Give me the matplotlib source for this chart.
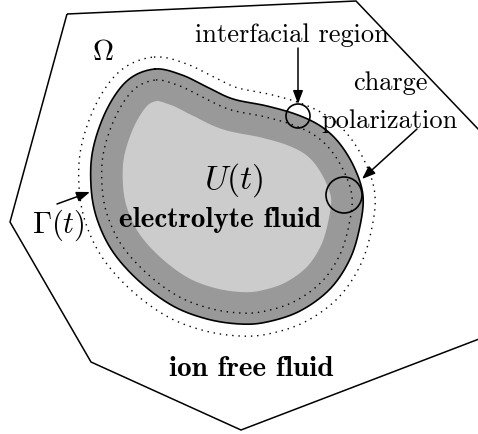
import numpy as np
import matplotlib
matplotlib.use("Agg")
import matplotlib.pyplot as plt
from matplotlib.patches import Polygon, Circle

plt.rcParams["mathtext.fontset"] = "cm"

# Outer domain Omega (image pixel coords, y down)
domain_x = [67, 356, 500, 500, 241, 91, 10]
domain_y = [15, 2, 153, 332, 431, 363, 223]

# Control points of the droplet boundary Gamma(t)
blob_x = [155, 182, 207, 233, 267, 298, 322, 340, 355, 363, 360, 350, 330,
          300, 267, 240, 207, 173, 140, 113, 97, 91, 93, 107, 128]
blob_y = [70, 76, 88, 100, 107, 116, 128, 145, 170, 197, 227, 260, 290,
          312, 323, 325, 320, 307, 283, 253, 220, 187, 150, 110, 81]

# offsets of the layers from the boundary (pixels, + = outward)
core_offset = -32
dot_in_offset = -11
dot_out_offset = 12


def closed_spline(px, py, n=30):
    p = np.column_stack([px, py]).astype(float)
    m = len(p)
    out = []
    for i in range(m):
        p0, p1, p2, p3 = p[i - 1], p[i], p[(i + 1) % m], p[(i + 2) % m]
        t = np.linspace(0, 1, n, endpoint=False)[:, None]
        out.append(0.5 * ((2 * p1) + (-p0 + p2) * t
                          + (2 * p0 - 5 * p1 + 4 * p2 - p3) * t ** 2
                          + (-p0 + 3 * p1 - 3 * p2 + p3) * t ** 3))
    return np.vstack(out)


def offset(curve, d):
    tang = np.roll(curve, -1, axis=0) - np.roll(curve, 1, axis=0)
    tang /= np.linalg.norm(tang, axis=1)[:, None]
    norm = np.column_stack([tang[:, 1], -tang[:, 0]])
    # make normal point outward
    x, y = curve[:, 0], curve[:, 1]
    area = 0.5 * np.sum(x * np.roll(y, -1) - np.roll(x, -1) * y)
    if area < 0:
        norm = -norm
    return curve + d * norm


fig = plt.figure(figsize=(4.78, 4.35), dpi=100)
ax = fig.add_axes([0, 0, 1, 1])
ax.set_xlim(0, 478)
ax.set_ylim(435, 0)
ax.axis("off")

ax.add_patch(Polygon(np.column_stack([domain_x, domain_y]), closed=True,
                     fill=False, ec="black", lw=1.1))

bnd = closed_spline(blob_x, blob_y)
core = offset(bnd, core_offset)
dot_in = offset(bnd, dot_in_offset)
dot_out = offset(bnd, dot_out_offset)

ax.add_patch(Polygon(bnd, closed=True, fc="#999999", ec="none"))
ax.add_patch(Polygon(core, closed=True, fc="#cccccc", ec="none"))

dots = (0, (1, 3.5))
ax.plot(np.append(dot_in[:, 0], dot_in[0, 0]), np.append(dot_in[:, 1], dot_in[0, 1]),
        color="black", lw=1.0, ls=dots)
ax.plot(np.append(dot_out[:, 0], dot_out[0, 0]), np.append(dot_out[:, 1], dot_out[0, 1]),
        color="black", lw=1.0, ls=dots)

ax.plot(np.append(bnd[:, 0], bnd[0, 0]), np.append(bnd[:, 1], bnd[0, 1]),
        color="black", lw=1.2, zorder=4)
# interfacial region and polarization circles
ax.add_patch(Circle((298, 117), 12, fc="none", ec="black", lw=1.2, zorder=5))
ax.add_patch(Circle((344, 196), 18, fc="none", ec="black", lw=1.2, zorder=5))

arrow = dict(arrowstyle="-|>,head_length=0.8,head_width=0.3", color="black",
             lw=1.1, shrinkA=0, shrinkB=0)
ax.annotate("", xy=(298, 105), xytext=(298, 49), arrowprops=arrow, zorder=6)
ax.annotate("", xy=(362, 180), xytext=(417, 130), arrowprops=arrow, zorder=6)
ax.annotate("", xy=(90, 193), xytext=(57, 205), arrowprops=arrow, zorder=6)

ax.text(292, 35, "interfacial region", family="cmr10", fontsize=19,
        ha="center", va="center")
ax.text(390, 83, "charge", family="cmr10", fontsize=19, ha="center", va="center")
ax.text(390, 121, "polarization", family="cmr10", fontsize=19,
        ha="center", va="center", zorder=7)
ax.text(103, 52, r"$\Omega$", fontsize=21, ha="center", va="center")
ax.text(234, 180, r"$U(t)$", fontsize=24, ha="center", va="center")
ax.text(58, 225, r"$\Gamma(t)$", fontsize=22, ha="center", va="center")
ax.text(220, 220, "electrolyte fluid", family="cmb10", fontsize=21,
        ha="center", va="center")
ax.text(251, 369, "ion free fluid", family="cmb10", fontsize=21,
        ha="center", va="center")

fig.savefig("out.png", dpi=100)
